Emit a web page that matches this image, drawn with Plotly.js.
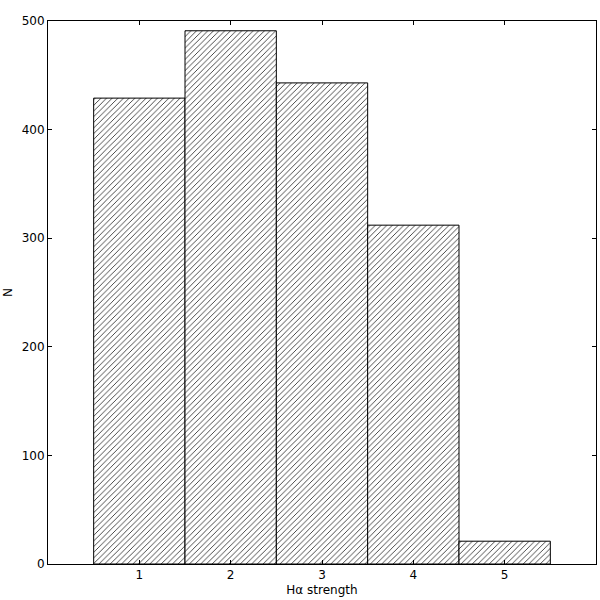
<!DOCTYPE html>
<html>
<head>
<meta charset="utf-8">
<script src="https://cdn.plot.ly/plotly-3.0.1.min.js"></script>
<style>
  body { margin: 0; background: white; }
  #plot { width: 600px; height: 600px; }
</style>
</head>
<body>
<div id="plot"></div>
<script>
// H-alpha strength histogram
const strength = [1, 2, 3, 4, 5];
const counts = [429, 491, 443, 312, 21];

const yTicks = [0, 100, 200, 300, 400, 500];

Plotly.newPlot("plot", [{
    x: strength,
    y: counts,
    type: "bar",
    width: 1,
    marker: {
        color: "white",
        line: { color: "black", width: 1 },
        pattern: { shape: "/", fgcolor: "#333", bgcolor: "white", size: 4, solidity: 0.22 }
    }
}], {
    width: 600,
    height: 600,
    paper_bgcolor: "white",
    plot_bgcolor: "white",
    font: { family: "DejaVu Sans", size: 12, color: "black" },
    margin: { l: 48, r: 4, t: 21, b: 36 },
    showlegend: false,
    xaxis: {
        range: [0, 6],
        tickvals: strength,
        ticks: "inside",
        ticklen: 4,
        tickcolor: "black",
        showgrid: false,
        zeroline: false,
        showline: true,
        linecolor: "black",
        linewidth: 1,
        mirror: "allticks",
        title: { text: "Hα strength", font: { size: 12 }, standoff: 4 }
    },
    yaxis: {
        range: [0, 500],
        tickvals: yTicks,
        ticks: "inside",
        ticklen: 4,
        tickcolor: "black",
        showgrid: false,
        zeroline: false,
        showline: true,
        linecolor: "black",
        linewidth: 1,
        mirror: "allticks",
        title: { text: "N", font: { size: 12 }, standoff: 6 }
    }
}, { displayModeBar: false });
</script>
</body>
</html>
